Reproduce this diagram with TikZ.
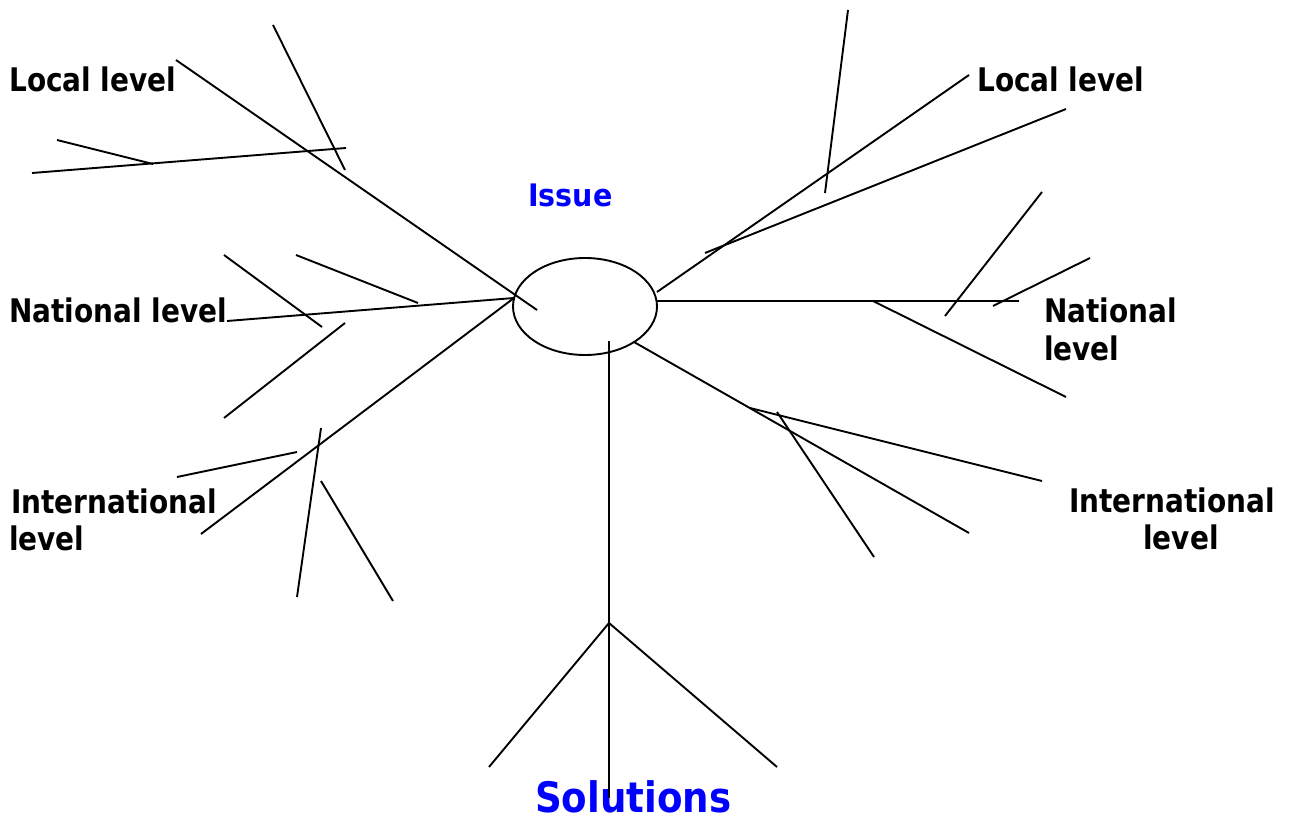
\documentclass[tikz,border=0pt]{standalone}
\usepackage{fontspec}
\setmainfont{DejaVu Sans}
\newfontfamily\lblfont[FakeStretch=0.86]{DejaVu Sans}
\newfontfamily\issfont[FakeStretch=0.92]{DejaVu Sans}
\newfontfamily\solfont[FakeStretch=0.885]{DejaVu Sans}
\usetikzlibrary{shapes.geometric}
\definecolor{pureblue}{RGB}{0,0,255}
\tikzset{
  ln/.style={line width=1.9pt, line cap=butt},
  lbl/.style={font=\lblfont\bfseries\fontsize{32.5}{37}\selectfont, inner sep=0pt, text=black},
  bluelbl/.style={font=\issfont\bfseries\fontsize{31}{34}\selectfont, inner sep=0pt, text=pureblue},
  biglbl/.style={font=\solfont\bfseries\fontsize{42}{44}\selectfont, inner sep=0pt, text=pureblue}
}
\begin{document}
\begin{tikzpicture}[x=1pt,y=-1pt]
\useasboundingbox (0,0) rectangle (1291,818);
% central ellipse
\node[draw, ellipse, line width=1.9pt, minimum width=144pt, minimum height=97pt, inner sep=0pt] (iss) at (585,306.5) {};
% labels
\node[bluelbl, anchor=base west] (issue) at (528,207) {Issue};
\node[biglbl, anchor=base west] (sol) at (535,812) {Solutions};
\node[lbl, anchor=base west] (locL) at (9,92) {Local level};
\node[lbl, anchor=base west] (natL) at (9,323) {National level};
\node[lbl, anchor=base west] (intLa) at (11,513) {International};
\node[lbl, anchor=base west] (intLb) at (9,550) {level};
\node[lbl, anchor=base west] (locR) at (977,92) {Local level};
\node[lbl, anchor=base west] (natRa) at (1044,323) {National};
\node[lbl, anchor=base west] (natRb) at (1044,360) {level};
\node[lbl, anchor=base] (intRa) at (1172,512) {International};
\node[lbl, anchor=base] (intRb) at (1181,549) {level};
% endpoints
\coordinate (a1) at (176,60);  \coordinate (a2) at (537,310);
\coordinate (b1) at (273,25);  \coordinate (b2) at (345,170);
\coordinate (c1) at (32,173);  \coordinate (c2) at (346,148);
\coordinate (d1) at (57,140);  \coordinate (d2) at (153,164);
\coordinate (e1) at (227,321); \coordinate (e2) at (514,298);
\coordinate (f1) at (296,255); \coordinate (f2) at (418,303);
\coordinate (g1) at (224,255); \coordinate (g2) at (322,327);
\coordinate (h1) at (345,323); \coordinate (h2) at (224,418);
\coordinate (i1) at (514,298); \coordinate (i2) at (201,534);
\coordinate (j1) at (177,477); \coordinate (j2) at (297,452);
\coordinate (k1) at (321,428); \coordinate (k2) at (297,597);
\coordinate (l1) at (321,481); \coordinate (l2) at (393,601);
\coordinate (m1) at (848,10);  \coordinate (m2) at (825,193);
\coordinate (n1) at (657,292); \coordinate (n2) at (969,75);
\coordinate (o1) at (705,253); \coordinate (o2) at (1066,109);
\coordinate (p1) at (657,301); \coordinate (p2) at (1019,301);
\coordinate (q1) at (873,301); \coordinate (q2) at (1066,397);
\coordinate (r1) at (945,316); \coordinate (r2) at (1042,192);
\coordinate (s1) at (993,306); \coordinate (s2) at (1090,258);
\coordinate (t1) at (634,342); \coordinate (t2) at (969,533);
\coordinate (u1) at (750,408); \coordinate (u2) at (1042,481);
\coordinate (v1) at (777,412); \coordinate (v2) at (874,557);
\coordinate (w1) at (609,341); \coordinate (w2) at (609,798);
\coordinate (apex) at (609,623);
\coordinate (x2) at (489,767); \coordinate (y2) at (777,767);
% lines
\foreach \s in {a,b,c,d,e,f,g,h,i,j,k,l,m,n,o,q,r,s,t,u,v,w}
  \draw[ln] (\s1) -- (\s2);
\draw[line width=2.4pt] (p1) -- (p2);
\draw[ln] (apex) -- (x2);
\draw[ln] (apex) -- (y2);
\end{tikzpicture}
\end{document}
